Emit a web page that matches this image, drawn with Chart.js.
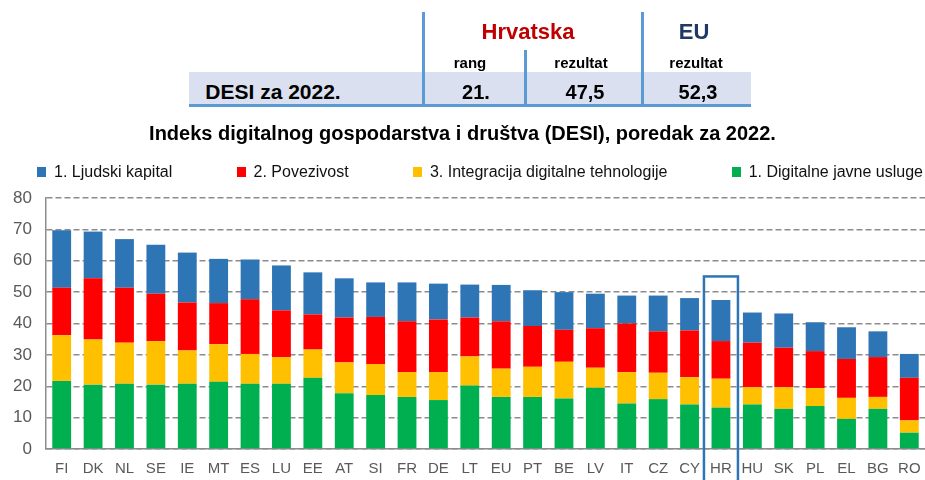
<!DOCTYPE html>
<html>
<head>
<meta charset="utf-8">
<script src="https://cdn.jsdelivr.net/npm/chart.js@4/dist/chart.umd.min.js"></script>
<style>
  body { margin: 0; background: #fff; font-family: "Liberation Sans", Arial, sans-serif; }
  #wrap { position: relative; width: 925px; height: 480px; overflow: hidden; }
  #myChart { position: absolute; left: 0; top: 0; }
  .t { position: absolute; white-space: nowrap; transform: translate(-50%, -50%); font-weight: bold; }
  .vline { position: absolute; width: 3px; background: #5b9bd5; }
  #legend { position: absolute; left: 37px; right: 2px; top: 163px; display: flex; justify-content: space-between; font-size: 16px; color: #111; }
  #legend span.box { display: inline-block; width: 9px; height: 10px; margin-right: 8px; vertical-align: 0px; }
</style>
</head>
<body>
<div id="wrap">
  <canvas id="myChart" width="925" height="480"></canvas>
  <!-- tablica na vrhu -->
  <div style="position:absolute;left:189px;top:72px;width:562px;height:33px;background:#dae0f0;"></div>
  <div style="position:absolute;left:189px;top:104px;width:562px;height:3px;background:#5b9bd5;"></div>
  <div class="vline" style="left:422px;top:12px;height:95px;"></div>
  <div class="vline" style="left:524px;top:50px;height:57px;"></div>
  <div class="vline" style="left:641px;top:12px;height:95px;"></div>
  <div class="t" style="left:528px;top:32px;font-size:22px;color:#c00000;">Hrvatska</div>
  <div class="t" style="left:694px;top:32px;font-size:22px;color:#1f3864;">EU</div>
  <div class="t" style="left:470px;top:62px;font-size:15px;">rang</div>
  <div class="t" style="left:581px;top:62px;font-size:15px;">rezultat</div>
  <div class="t" style="left:696px;top:62px;font-size:15px;">rezultat</div>
  <div class="t" style="left:273px;top:92px;font-size:21px;">DESI za 2022.</div>
  <div class="t" style="left:476px;top:92px;font-size:20px;">21.</div>
  <div class="t" style="left:585px;top:92px;font-size:20px;">47,5</div>
  <div class="t" style="left:698px;top:92px;font-size:20px;">52,3</div>
  <div id="legend"></div>
</div>
<script>
// DESI 2022 - zemlje poredane po ukupnom rezultatu (EU prosjek kao poseban stupac)
const labels = ['FI','DK','NL','SE','IE','MT','ES','LU','EE','AT','SI','FR','DE','LT','EU','PT','BE','LV','IT','CZ','CY','HR','HU','SK','PL','EL','BG','RO'];
const ljudskiKapital = [18.3,14.9,15.5,15.6,15.9,14.1,12.7,14.3,13.4,12.5,11.0,12.4,11.4,10.5,11.6,11.4,12.0,11.0,8.9,11.4,10.3,13.1,9.6,10.9,9.2,10.1,8.2,7.6];
const povezivost     = [15.1,19.5,17.5,15.1,15.3,13.1,17.4,14.9,11.2,14.3,15.0,16.2,16.8,12.4,15.1,13.0,10.2,12.6,15.5,13.2,14.9,12.0,14.2,12.6,11.8,12.4,12.7,13.6];
const integracija    = [14.6,14.4,13.1,13.9,10.6,12.0,9.5,8.5,9.0,9.8,9.9,7.9,8.9,9.3,9.0,9.6,11.7,6.4,10.0,8.4,8.7,9.2,5.5,6.9,5.7,6.7,3.8,3.9];
const javneUsluge    = [21.7,20.5,20.8,20.5,20.8,21.4,20.8,20.8,22.7,17.8,17.2,16.6,15.6,20.2,16.6,16.6,16.1,19.5,14.5,15.9,14.2,13.2,14.2,12.8,13.7,9.6,12.8,5.2];
const yTicks = [0,10,20,30,40,50,60,70,80];
const highlight = 'HR';

const series = [
  { label: '1. Digitalne javne usluge', data: javneUsluge, color: '#00b050' },
  { label: '3. Integracija digitalne tehnologije', data: integracija, color: '#ffc000' },
  { label: '2. Povezivost', data: povezivost, color: '#ff0000' },
  { label: '1. Ljudski kapital', data: ljudskiKapital, color: '#2e75b6' }
];

// legenda (obrnuti redoslijed kao u originalu)
const legendEl = document.getElementById('legend');
series.slice().reverse().forEach(s => {
  const d = document.createElement('div');
  d.innerHTML = '<span class="box" style="background:' + s.color + '"></span>' + s.label;
  legendEl.appendChild(d);
});

// okvir oko HR stupca
const hrBox = {
  id: 'hrBox',
  afterDatasetsDraw(chart) {
    const i = labels.indexOf(highlight);
    const x = chart.scales.x.getPixelForValue(i);
    let total = 0;
    series.forEach(s => total += s.data[i]);
    const top = chart.scales.y.getPixelForValue(total + 7.5);
    const ctx = chart.ctx;
    ctx.save();
    ctx.strokeStyle = '#2e75b6';
    ctx.lineWidth = 2.5;
    ctx.strokeRect(x - 17, top, 34, chart.height + 20 - top);
    ctx.restore();
  }
};

const ctx = document.getElementById('myChart');
const myChart = new Chart(ctx, {
    type: 'bar',
    data: {
        labels: labels,
        datasets: series.map(s => ({
            label: s.label,
            data: s.data,
            backgroundColor: s.color,
            borderWidth: 0,
            categoryPercentage: 1,
            barPercentage: 0.6
        }))
    },
    options: {
        responsive: false,
        animation: false,
        layout: {
            padding: { top: 122, right: 0, bottom: 0, left: 0 }
        },
        scales: {
            x: {
                stacked: true,
                afterFit: (scale) => { scale.height = 31; },
                grid: { display: false },
                border: { display: true, color: '#8c8c8c', width: 1.5 },
                ticks: { color: '#595959', font: { size: 15, family: 'Liberation Sans' }, padding: 3, maxRotation: 0, autoSkip: false }
            },
            y: {
                stacked: true,
                min: 0,
                max: 80,
                afterBuildTicks: (scale) => { scale.ticks = yTicks.map(v => ({ value: v })); },
                afterFit: (scale) => { scale.width = 46; },
                grid: { color: '#8c8c8c', lineWidth: 1.5, drawTicks: false },
                border: { display: true, color: '#8c8c8c', width: 1.5, dash: [6, 3] },
                ticks: { color: '#595959', font: { size: 17, family: 'Liberation Sans' }, padding: 14 }
            }
        },
        plugins: {
            legend: { display: false },
            tooltip: { enabled: false },
            title: {
                display: true,
                text: 'Indeks digitalnog gospodarstva i društva (DESI), poredak za 2022.',
                color: '#000',
                font: { size: 20, weight: 'bold', family: 'Liberation Sans' },
                padding: { top: 0, bottom: 52 }
            }
        }
    },
    plugins: [hrBox]
});
</script>
</body>
</html>
